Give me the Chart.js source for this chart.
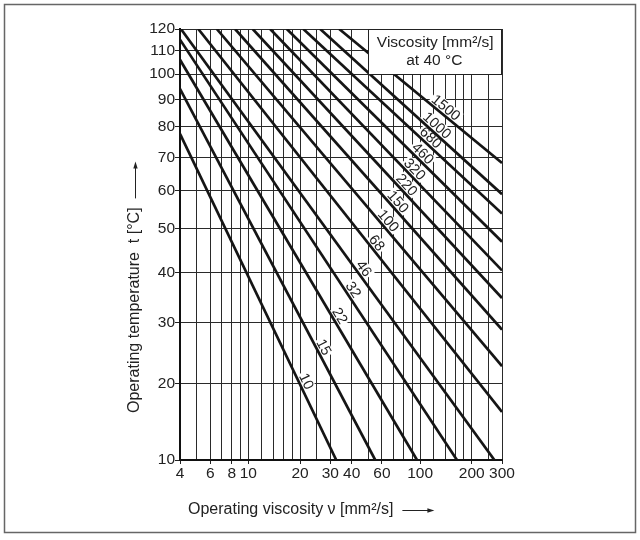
<!DOCTYPE html>
<html lang="en">
<head>
<meta charset="UTF-8">
<title>Operating viscosity</title>
<script src="https://cdn.jsdelivr.net/npm/chart.js@4"></script>
<style>
  html, body { margin: 0; padding: 0; background: #fff; }
  #wrap { width: 640px; height: 540px; }
</style>
</head>
<body>
<div id="wrap"><canvas id="chart" width="640" height="540"></canvas></div>
<script>
// ISO VG grades (viscosity at 40 °C) and the two ends of each line
const grades = ['10', '15', '22', '32', '46', '68', '100', '150', '220', '320', '460', '680', '1000', '1500'];
const startVisc = [4, 4, 4, 4, 4.05, 5.11, 6.55, 8.37, 10.6, 13.4, 16.75, 20.9, 26.2, 33.8];
const startTemp = [77.6, 94, 106, 115, 120, 120, 120, 120, 120, 120, 120, 120, 120, 120];
const endVisc = [32.5, 54.8, 96, 164, 271, 300, 300, 300, 300, 300, 300, 300, 300, 300];
const endTemp = [10, 10, 10, 10, 10, 16.0, 22.7, 28.8, 34.7, 40.4, 46.9, 53.9, 59.1, 68.2];

const viscGrid = [4, 5, 6, 7, 8, 9, 10, 12, 14, 16, 18, 20, 25, 30, 40, 50, 60, 70, 80, 90, 100, 120, 140, 160, 180, 200, 250, 300];
const viscLabels = [4, 6, 8, 10, 20, 30, 40, 60, 100, 200, 300];
const tempTicks = [10, 20, 30, 40, 50, 60, 70, 80, 90, 100, 110, 120];

const FONT = "'Liberation Sans', Arial, sans-serif";
const INK = '#222';

// temperature axis is compressed towards the top: position ~ log(t + 25)
const tf = t => Math.log10(t + 25);
class TemperatureScale extends Chart.LinearScale {
    getPixelForValue(value) {
        if (value === null || isNaN(value)) return NaN;
        const a = tf(this.min), b = tf(this.max);
        return this.getPixelForDecimal((tf(value) - a) / (b - a));
    }
    getValueForPixel(pixel) {
        const a = tf(this.min), b = tf(this.max);
        return Math.pow(10, a + this.getDecimalForPixel(pixel) * (b - a)) - 25;
    }
}
TemperatureScale.id = 'temperature';
TemperatureScale.defaults = Chart.LinearScale.defaults;
Chart.register(TemperatureScale);

// labels sit along a diagonal running from (21 mm²/s, 21 °C) to (131 mm²/s, 84 °C)
const labelGuide = [[21, 21], [131, 84]];

function labelSpots(chart) {
    const xs = chart.scales.x, ys = chart.scales.y;
    const g1 = { x: xs.getPixelForValue(labelGuide[0][0]), y: ys.getPixelForValue(labelGuide[0][1]) };
    const g2 = { x: xs.getPixelForValue(labelGuide[1][0]), y: ys.getPixelForValue(labelGuide[1][1]) };
    return chart.data.datasets.map((ds, i) => {
        const pts = chart.getDatasetMeta(i).data;
        const p1 = pts[0], p2 = pts[1];
        const dx = p2.x - p1.x, dy = p2.y - p1.y;
        const ex = g2.x - g1.x, ey = g2.y - g1.y;
        const t = ((g1.x - p1.x) * ey - (g1.y - p1.y) * ex) / (dx * ey - dy * ex);
        const len = Math.hypot(dx, dy), ux = dx / len, uy = dy / len;
        const off = 7;
        return {
            x: p1.x + t * dx + uy * off,
            y: p1.y + t * dy - ux * off,
            angle: Math.atan2(dy, dx),
            text: ds.label
        };
    });
}

function arrow(ctx, x1, y1, x2, y2) {
    const a = Math.atan2(y2 - y1, x2 - x1);
    ctx.beginPath();
    ctx.moveTo(x1, y1);
    ctx.lineTo(x2 - 5 * Math.cos(a), y2 - 5 * Math.sin(a));
    ctx.stroke();
    ctx.beginPath();
    ctx.moveTo(x2, y2);
    ctx.lineTo(x2 - 7 * Math.cos(a) + 2.2 * Math.sin(a), y2 - 7 * Math.sin(a) - 2.2 * Math.cos(a));
    ctx.lineTo(x2 - 7 * Math.cos(a) - 2.2 * Math.sin(a), y2 - 7 * Math.sin(a) + 2.2 * Math.cos(a));
    ctx.closePath();
    ctx.fill();
}

const extras = {
    id: 'extras',
    beforeDraw(chart) {
        const ctx = chart.ctx;
        ctx.save();
        ctx.fillStyle = '#fff';
        ctx.fillRect(0, 0, chart.width, chart.height);
        ctx.strokeStyle = '#666';
        ctx.lineWidth = 1.5;
        ctx.strokeRect(4.5, 4.5, 631, 528);
        ctx.restore();
    },
    beforeDatasetsDraw(chart) {
        // white patches behind the grade labels hide the grid
        const ctx = chart.ctx;
        ctx.save();
        ctx.font = '14.5px ' + FONT;
        labelSpots(chart).forEach(s => {
            const w = ctx.measureText(s.text).width;
            ctx.save();
            ctx.translate(s.x, s.y);
            ctx.rotate(s.angle);
            ctx.fillStyle = '#fff';
            ctx.fillRect(-w / 2 - 1.5, -6.5, w + 3, 13);
            ctx.restore();
        });
        ctx.restore();
    },
    afterDatasetsDraw(chart) {
        const ctx = chart.ctx;
        const area = chart.chartArea;
        const xs = chart.scales.x, ys = chart.scales.y;
        ctx.save();
        ctx.font = '14.5px ' + FONT;
        ctx.fillStyle = INK;
        ctx.textAlign = 'center';
        ctx.textBaseline = 'middle';
        labelSpots(chart).forEach(s => {
            ctx.save();
            ctx.translate(s.x, s.y);
            ctx.rotate(s.angle);
            ctx.fillText(s.text, 0, 0.5);
            ctx.restore();
        });

        // key box in the top right cell
        const bx = Math.round(xs.getPixelForValue(50)) + 0.5;
        const by = Math.round(ys.getPixelForValue(100)) + 0.5;
        ctx.fillStyle = '#fff';
        ctx.fillRect(bx, area.top, area.right - bx, by - area.top);
        ctx.strokeStyle = '#222';
        ctx.lineWidth = 1;
        ctx.strokeRect(bx, area.top + 0.5, area.right - bx - 0.5, by - area.top - 0.5);
        ctx.fillStyle = INK;
        ctx.font = '15.5px ' + FONT;
        const cx = (bx + area.right) / 2;
        ctx.fillText('Viscosity [mm²/s]', cx, area.top + 14);
        ctx.fillText('at 40 °C', cx - 1, area.top + 32);
        ctx.restore();
    },
    afterDraw(chart) {
        const ctx = chart.ctx;
        const area = chart.chartArea;
        ctx.save();
        ctx.fillStyle = INK;
        ctx.strokeStyle = INK;
        ctx.lineWidth = 1;
        ctx.font = '16px ' + FONT;
        ctx.textBaseline = 'middle';
        ctx.textAlign = 'left';

        const xt = 'Operating viscosity \u03bd [mm²/s]';
        const xw = ctx.measureText(xt).width;
        const xl = area.left + 8, xy = 510;
        ctx.fillText(xt, xl, xy);
        arrow(ctx, xl + xw + 9, xy + 0.5, xl + xw + 41, xy + 0.5);

        const yt = 'Operating temperature  t [°C]';
        const yw = ctx.measureText(yt).width;
        ctx.save();
        ctx.translate(135, 413);
        ctx.rotate(-Math.PI / 2);
        ctx.fillText(yt, 0, 0);
        arrow(ctx, yw + 9, 0.5, yw + 46, 0.5);
        ctx.restore();
        ctx.restore();
    }
};

const datasets = grades.map((g, i) => ({
    label: g,
    data: [{ x: startVisc[i], y: startTemp[i] }, { x: endVisc[i], y: endTemp[i] }],
    borderColor: '#151515',
    borderWidth: 2.7,
    pointRadius: 0,
    tension: 0,
    fill: false
}));

Chart.defaults.font.family = FONT;
Chart.defaults.color = INK;

new Chart(document.getElementById('chart'), {
    type: 'line',
    data: { datasets },
    options: {
        responsive: false,
        animation: false,
        events: [],
        layout: { padding: { top: 29, right: 138, left: 0, bottom: 0 } },
        plugins: { legend: { display: false }, tooltip: { enabled: false } },
        scales: {
            x: {
                type: 'logarithmic',
                min: 4,
                max: 300,
                afterBuildTicks: s => { s.ticks = viscGrid.map(v => ({ value: v })); },
                afterFit: s => { s.height = 80; },
                ticks: {
                    autoSkip: false,
                    maxRotation: 0,
                    minRotation: 0,
                    padding: 0,
                    font: { size: 15.5 },
                    color: INK,
                    callback: v => viscLabels.includes(v) ? String(v) : ''
                },
                grid: {
                    color: '#2a2a2a',
                    lineWidth: 1,
                    tickLength: 4,
                    tickColor: c => (c.tick && viscLabels.includes(c.tick.value)) ? '#222' : 'rgba(0,0,0,0)'
                },
                border: { color: '#111', width: 2 }
            },
            y: {
                type: 'temperature',
                min: 10,
                max: 120,
                afterBuildTicks: s => { s.ticks = tempTicks.map(v => ({ value: v })); },
                afterFit: s => { s.width = 180; },
                ticks: {
                    padding: 0,
                    font: { size: 15.5 },
                    color: INK,
                    callback: v => String(v)
                },
                grid: { color: '#2a2a2a', lineWidth: 1, tickLength: 5, tickColor: '#222' },
                border: { color: '#111', width: 2 }
            }
        }
    },
    plugins: [extras]
});
</script>
</body>
</html>
